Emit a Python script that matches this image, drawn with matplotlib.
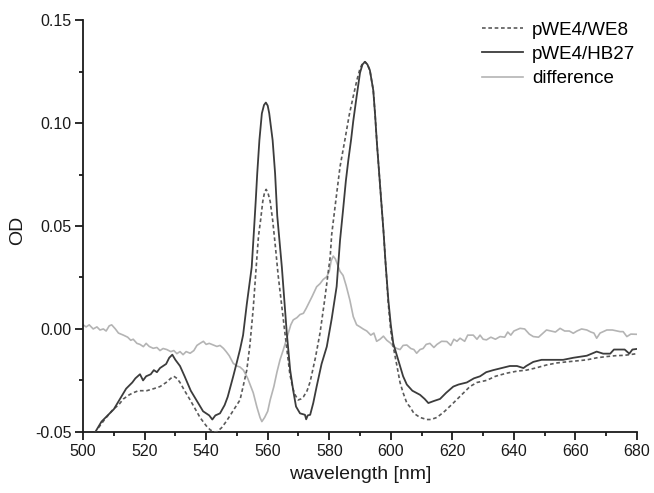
import matplotlib
matplotlib.use("Agg")
import matplotlib.pyplot as plt
from matplotlib.ticker import MultipleLocator

plt.rcParams['font.family'] = ['Liberation Sans', 'DejaVu Sans']

# pWE4/HB27 (solid)
wl_hb27 = [504, 506, 508, 510, 512, 514, 516, 517, 518.5, 519.5, 520.5, 522, 523, 524, 525, 526, 527, 528, 529,
           530, 531.5, 533, 535, 537, 539, 541, 542, 543, 544.5, 546, 547, 548.8, 550, 551, 552, 553.2, 554.8,
           555.5, 556.1, 556.6, 557.3, 558.1, 558.8, 559.4, 560.0, 560.5, 561.6, 562.4, 563.1, 564.6, 566.2,
           567.3, 568.3, 569.2, 570.5, 572.1, 572.5, 573.0, 573.8, 574.8, 575.9, 577.5, 579.2, 580.8, 582.4,
           583.5, 584.5, 585.4, 586.2, 587.1, 587.8, 588.9, 590.0, 590.8, 591.6, 592.4, 593.2, 594.3, 594.9,
           595.5, 596.2, 597.0, 597.6, 598.3, 599.2, 600.0, 600.8, 602, 603, 604, 605.2, 607, 609.5,
           611, 612.2, 614, 616, 618, 620.3, 622, 624.7, 627, 629, 631, 633.3, 636, 638.7, 641, 643.1, 644, 646.3,
           649, 652.8, 656, 659.3, 663.7, 666.9, 669, 671.3, 672.5, 676, 677.5, 678.5, 680]
od_hb27 = [-0.050, -0.045, -0.042, -0.039, -0.034, -0.029, -0.026, -0.024, -0.022, -0.025, -0.023, -0.022, -0.020,
           -0.021, -0.019, -0.018, -0.017, -0.014, -0.0125, -0.015, -0.018, -0.023, -0.030, -0.035, -0.040, -0.042,
           -0.044, -0.042, -0.041, -0.037, -0.033, -0.023, -0.016, -0.010, -0.003, 0.012, 0.030,
           0.047, 0.062, 0.0756, 0.0917, 0.1047, 0.1088, 0.110, 0.1085, 0.1047, 0.0917, 0.0756, 0.055, 0.030, -0.002,
           -0.020, -0.030, -0.0377, -0.041, -0.0417, -0.0439, -0.042, -0.0417, -0.036, -0.028, -0.017, -0.0086,
           0.005, 0.0206, 0.043, 0.058, 0.072, 0.082, 0.092, 0.101, 0.113, 0.1245, 0.1285, 0.1298, 0.1285, 0.1257,
           0.116, 0.104, 0.090, 0.076, 0.060, 0.048, 0.032, 0.014, 0.002, -0.007, -0.013, -0.018, -0.023, -0.027,
           -0.030, -0.032, -0.034, -0.036, -0.035, -0.034, -0.031, -0.028, -0.027, -0.026, -0.024, -0.023, -0.021,
           -0.020, -0.019, -0.018, -0.018, -0.019, -0.018, -0.016, -0.015, -0.015, -0.015, -0.014, -0.013, -0.011,
           -0.012, -0.012, -0.010, -0.010, -0.012, -0.010, -0.0097]

# pWE4/WE8 (dashed)
wl_we8 = [505, 507, 509.8, 511.5, 513.1, 515, 516.3, 518, 520.7, 523, 525, 527, 528.5, 529.5, 530.5, 531.5, 533,
          534.8, 536.5, 538, 540, 541.3, 542.5, 543.5, 545, 546.5, 547.8, 549.5, 551, 552, 553.2, 554.2, 555.3,
          556.4, 557.0, 557.7, 558.4, 559.0, 559.5, 560.1, 560.8, 561.6, 562.5, 563.4, 564.5, 565.6, 567.2, 568.2,
          568.9, 569.9, 570.8, 571.6, 572.8, 573.8, 575.5, 577, 578.5, 580.3, 580.8, 582.1, 583.5, 585.1, 586.5,
          587.8, 589.0, 590.0, 590.8, 591.6, 592.4, 593.2, 594.3, 594.9, 595.5, 596.2, 597.0, 597.6, 598.3,
          599.2, 600.0, 600.8, 602, 603, 604, 605.2, 606.3, 607.5, 609.5, 611.7, 613, 615, 617.5, 620.3,
          623, 625.7, 628, 631.1, 634, 637.6, 641, 644.1, 647, 650.6, 654, 657.1, 660.5, 663.7, 667, 670.2, 673,
          676, 680]
od_we8 = [-0.048, -0.044, -0.039, -0.037, -0.034, -0.032, -0.031, -0.030, -0.030, -0.029, -0.028, -0.026, -0.024,
          -0.023, -0.024, -0.026, -0.030, -0.0345, -0.039, -0.043, -0.047, -0.049, -0.050, -0.050, -0.048, -0.045,
          -0.042, -0.038, -0.0345, -0.028, -0.020, -0.008, 0.010, 0.033, 0.045, 0.053, 0.062, 0.0665, 0.0678,
          0.066, 0.062, 0.053, 0.040, 0.026, 0.012, -0.002, -0.022, -0.029, -0.032, -0.0345, -0.034, -0.033,
          -0.030, -0.0256, -0.014, -0.002, 0.014, 0.035, 0.046, 0.062, 0.0788, 0.092, 0.104, 0.113, 0.121, 0.1265,
          0.129, 0.1298, 0.1285, 0.1257, 0.116, 0.104, 0.090, 0.076, 0.060, 0.048, 0.032, 0.012, -0.001, -0.0086,
          -0.018, -0.026, -0.031, -0.036, -0.038, -0.041, -0.043, -0.044, -0.044, -0.043, -0.040, -0.036, -0.032,
          -0.028, -0.026, -0.025, -0.023, -0.0215, -0.0205, -0.020, -0.019, -0.0175, -0.0165, -0.016, -0.0155,
          -0.015, -0.014, -0.0134, -0.013, -0.0128, -0.012]

# difference
wl_diff = [500, 501, 502, 503.3, 504.5, 505.5, 506.6, 507.5, 508.5, 509.3, 510.5, 511.5, 513.1, 514.5, 515.5, 516.3,
           517.5, 518.5, 519.6, 520.5, 521.5, 522.8, 524, 525, 526, 527.2, 528.5, 529.5, 530.5, 531.5, 532.5, 533.5,
           534.8, 536, 537, 538, 539.1, 540, 541, 542.3, 543.5, 544.5, 545.6, 546.5, 547.5, 548.8, 550, 551, 552.1,
           553.5, 555.3, 556.5, 557.5, 558.1, 559, 560, 560.8, 562, 563, 564, 565.1, 566.5, 567.5, 568.3, 569.5,
           570.5, 571.6, 572.5, 573.5, 574.5, 575.9, 577, 578, 579.2, 580, 580.6, 581.3, 582, 583.5, 584.5, 585.5,
           586.7, 587.8, 588.9, 590, 591, 592.2, 593.5, 594.5, 595.4, 596.5, 597.6, 598.7, 600, 600.8, 602, 603,
           604, 605.2, 606.5, 607.5, 608.4, 609.5, 610.5, 611.5, 612.7, 614, 615, 616.5, 618.2, 619.5, 620.5,
           621.5, 622.5, 624, 625, 626.8, 628, 629, 630, 631.1, 632.5, 634, 635.5, 637, 638, 639, 640, 642, 643.5,
           645, 646.3, 648, 649.5, 650.6, 652, 653.5, 655, 656.5, 658, 659.3, 660.5, 662, 663.7, 665, 666, 666.9,
           668, 670.2, 672, 674.5, 675.5, 676.7, 678, 680]
od_diff = [0.002, 0.001, 0.002, 0.000, 0.001, -0.0005, 0.000, -0.001, 0.0015, 0.002, 0.000, -0.002, -0.003, -0.004,
           -0.0055, -0.005, -0.007, -0.0075, -0.0086, -0.007, -0.0085, -0.0094, -0.009, -0.0105, -0.0095, -0.010,
           -0.011, -0.0105, -0.012, -0.011, -0.0125, -0.011, -0.0118, -0.0105, -0.008, -0.007, -0.006, -0.0075,
           -0.007, -0.0078, -0.0085, -0.008, -0.0094, -0.011, -0.013, -0.0167, -0.018, -0.0185, -0.020, -0.024,
           -0.031, -0.038, -0.043, -0.045, -0.043, -0.040, -0.0345, -0.028, -0.021, -0.015, -0.010, -0.003, 0.002,
           0.0044, 0.0055, 0.007, 0.0076, 0.010, 0.013, 0.016, 0.0205, 0.022, 0.024, 0.0254, 0.028, 0.033, 0.0354,
           0.034, 0.028, 0.026, 0.021, 0.014, 0.006, 0.002, 0.001, 0.000, -0.001, -0.003, -0.002, -0.006, -0.005,
           -0.0035, -0.0055, -0.007, -0.0086, -0.0095, -0.010, -0.008, -0.0078, -0.0095, -0.010, -0.0118, -0.010,
           -0.0095, -0.0075, -0.007, -0.009, -0.0075, -0.006, -0.0061, -0.008, -0.005, -0.006, -0.0045, -0.006,
           -0.003, -0.003, -0.005, -0.003, -0.005, -0.0053, -0.004, -0.005, -0.0037, -0.004, -0.0015, -0.003,
           -0.001, 0.0003, 0.000, -0.0025, -0.0037, -0.004, -0.002, -0.0005, -0.001, -0.0015, 0.0003, -0.001,
           -0.001, -0.0021, -0.001, 0.000, -0.0005, -0.0015, -0.002, -0.0045, -0.002, -0.0005, -0.0005, -0.0013,
           -0.0013, -0.0037, -0.0025, -0.0026]

labels = ["pWE4/WE8", "pWE4/HB27", "difference"]
x_ticks = [500, 520, 540, 560, 580, 600, 620, 640, 660, 680]
y_ticks = [-0.05, 0.00, 0.05, 0.10, 0.15]

fig = plt.figure(figsize=(6.54, 4.93), dpi=100)
ax = fig.add_axes([0.127, 0.124, 0.847, 0.835])

ax.plot(wl_we8, od_we8, color='#5a5a5a', lw=1.2, linestyle=(0, (2.2, 1.6)), label=labels[0], zorder=3)
ax.plot(wl_hb27, od_hb27, color='#3c3c3c', lw=1.3, label=labels[1], zorder=4)
ax.plot(wl_diff, od_diff, color='#b4b4b4', lw=1.2, label=labels[2], zorder=2)

ax.set_xlim(500, 680)
ax.set_ylim(-0.05, 0.15)
ax.set_xticks(x_ticks)
ax.set_yticks(y_ticks)
ax.set_yticklabels([f"{v:.2f}" for v in y_ticks])
ax.xaxis.set_minor_locator(MultipleLocator(10))
ax.yaxis.set_minor_locator(MultipleLocator(0.025))

for s in ['top', 'right']:
    ax.spines[s].set_visible(False)
for s in ['left', 'bottom']:
    ax.spines[s].set_linewidth(1.3)
    ax.spines[s].set_color('#1a1a1a')

ax.tick_params(which='major', direction='out', length=5.5, width=1.3, labelsize=11.5, colors='#1a1a1a', pad=3)
ax.tick_params(which='minor', direction='out', length=3, width=1.3, colors='#1a1a1a')

ax.set_xlabel("wavelength [nm]", fontsize=14, color='#1a1a1a', va='center')
ax.xaxis.set_label_coords(0.5, -0.104)
ax.set_ylabel("OD", fontsize=14, color='#1a1a1a', va='center')
ax.yaxis.set_label_coords(-0.119, 0.49)

ax.legend(loc='upper right', frameon=False, fontsize=13.5, handlelength=2.2, handletextpad=0.45,
          labelspacing=0.38, borderaxespad=0.0, borderpad=0.4, bbox_to_anchor=(1.01, 1.015))

fig.savefig("out.png", dpi=100)
